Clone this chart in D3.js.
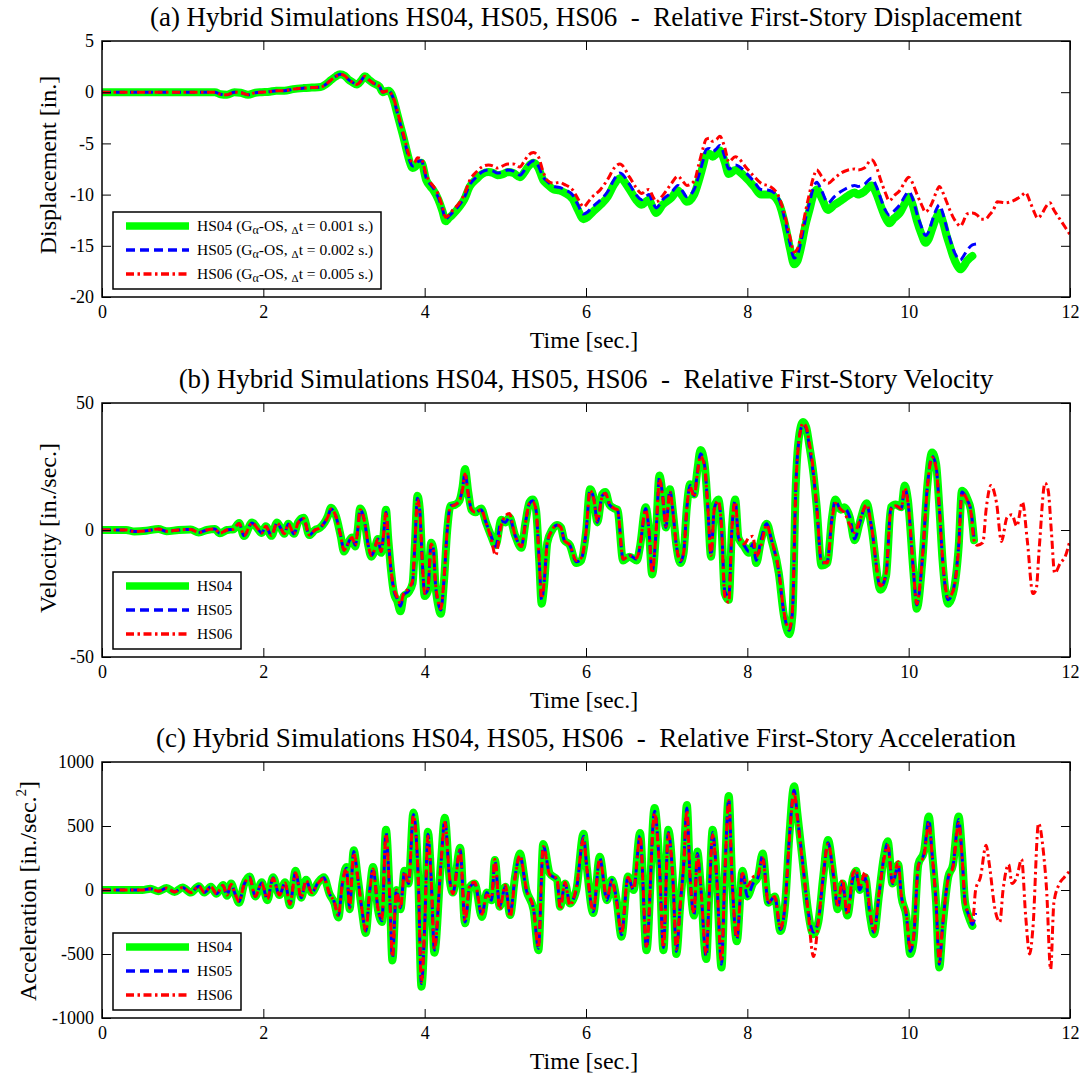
<!DOCTYPE html>
<html>
<head>
<meta charset="utf-8">
<script src="https://cdn.jsdelivr.net/npm/d3@7"></script>
<style>
  body { margin: 0; background: #fff; }
  svg text { font-family: "Liberation Serif", "Times New Roman", serif; fill: #000; }
</style>
</head>
<body>
<div id="chart"></div>
<script>
// ---- data ----
const xTicks = [0, 2, 4, 6, 8, 10, 12];
const seriesNames = ['HS04', 'HS05', 'HS06'];
const legendDt = ['0.001', '0.002', '0.005'];

// (a) displacement [in.]
const dispTime = [0, 0.5, 1.0, 1.4, 1.47, 1.55, 1.64, 1.72, 1.81, 1.9,
  1.98, 2.08, 2.16, 2.26, 2.37, 2.5, 2.6, 2.71, 2.78, 2.84,
  2.9, 2.95, 3.01, 3.06, 3.1, 3.16, 3.21, 3.26, 3.31, 3.36,
  3.44, 3.48, 3.52, 3.55, 3.59, 3.62, 3.66, 3.7, 3.74, 3.78,
  3.81, 3.85, 3.88, 3.91, 3.96, 4.02, 4.07, 4.11, 4.17, 4.22,
  4.26, 4.3, 4.34, 4.43, 4.49, 4.56, 4.64, 4.71, 4.79, 4.85,
  4.9, 4.97, 5.03, 5.1, 5.18, 5.23, 5.28, 5.35, 5.41, 5.47,
  5.52, 5.6, 5.67, 5.73, 5.84, 5.9, 5.97, 6.02, 6.07, 6.18,
  6.27, 6.35, 6.42, 6.54, 6.62, 6.69, 6.74, 6.78, 6.83, 6.87,
  6.95, 7.06, 7.14, 7.2, 7.25, 7.34, 7.4, 7.45, 7.49, 7.53,
  7.57, 7.62, 7.66, 7.72, 7.77, 7.85, 8.0, 8.08, 8.17, 8.28,
  8.39, 8.47, 8.53, 8.58, 8.62, 8.67, 8.72, 8.77, 8.82, 8.86,
  8.92, 9.0, 9.08, 9.16, 9.25, 9.33, 9.37, 9.45, 9.54, 9.6,
  9.65, 9.71, 9.76, 9.82, 9.89, 9.95, 10.0, 10.05, 10.1, 10.16,
  10.21, 10.25, 10.29, 10.34, 10.38, 10.43, 10.47, 10.51, 10.55, 10.6,
  10.64, 10.68, 10.72, 10.79, 10.85, 10.9, 10.95, 11.0, 11.05, 11.1,
  11.2, 11.3, 11.4, 11.45, 11.5, 11.55, 11.6, 11.65, 11.7, 11.75,
  11.8, 11.9, 12.0];
const dispHS04 = [0, 0, 0, 0, -0.2, -0.25, 0, -0.05, -0.25, -0.05,
  0, 0.05, 0.15, 0.15, 0.3, 0.4, 0.45, 0.5, 0.8, 1.2,
  1.55, 1.75, 1.6, 1.2, 1.0, 0.75, 1.1, 1.55, 1.2, 0.9,
  0.55, 0.0, 0.1, 0.15, -0.2, -0.9, -2.1, -3.3, -4.5, -5.8,
  -6.7, -7.4, -7.3, -7.0, -6.9, -8.6, -9.2, -9.6, -10.5, -11.6,
  -12.6, -12.3, -12.0, -11.2, -10.5, -9.2, -8.5, -8.0, -7.8, -7.9,
  -8.1, -8.0, -7.8, -7.9, -8.3, -7.9, -7.3, -6.9, -7.4, -8.6,
  -9.0, -9.5, -9.6, -9.8, -10.5, -11.5, -12.4, -12.2, -11.8, -11.0,
  -10.2, -9.0, -8.4, -9.5, -10.5, -11.0, -10.7, -10.5, -11.3, -11.8,
  -11.0, -10.3, -9.6, -10.2, -10.7, -10.0, -8.6, -7.2, -6.1, -6.0,
  -6.3, -6.0, -5.7, -6.8, -8.0, -7.6, -8.5, -9.2, -10.0, -10.0,
  -10.8, -13.0, -15.3, -16.8, -16.5, -15.0, -13.0, -11.5, -10.0, -9.5,
  -10.3, -11.5, -11.0, -10.6, -10.1, -9.8, -10.0, -9.7, -9.1, -9.9,
  -11.0, -12.2, -12.8, -12.3, -11.8, -10.9, -10.2, -11.0, -12.5, -13.9,
  -14.7, -14.3, -13.4, -12.3, -11.8, -12.8, -14.0, -15.0, -16.0, -16.9,
  -17.3, -17.0, -16.5, -16.0];
const dispHS05 = [0, 0, 0, 0, -0.2, -0.25, 0, -0.05, -0.25, -0.05,
  0, 0.05, 0.15, 0.15, 0.3, 0.4, 0.45, 0.5, 0.8, 1.2,
  1.55, 1.75, 1.6, 1.2, 1.0, 0.75, 1.1, 1.55, 1.2, 0.9,
  0.55, 0.0, 0.1, 0.15, -0.2, -0.8, -2.0, -3.2, -4.4, -5.7,
  -6.6, -7.2, -7.1, -6.8, -6.7, -8.4, -9.0, -9.4, -10.3, -11.4,
  -12.4, -12.1, -11.8, -11.0, -10.3, -9.0, -8.3, -7.8, -7.6, -7.7,
  -7.9, -7.8, -7.6, -7.7, -8.1, -7.7, -7.1, -6.7, -7.2, -8.3,
  -8.7, -9.2, -9.3, -9.5, -10.1, -11.0, -11.9, -11.7, -11.3, -10.5,
  -9.7, -8.5, -7.9, -9.0, -10.0, -10.5, -10.2, -10.0, -10.8, -11.3,
  -10.5, -9.8, -9.1, -9.7, -10.2, -9.5, -8.1, -6.7, -5.6, -5.5,
  -5.8, -5.5, -5.2, -6.3, -7.5, -7.1, -8.0, -8.7, -9.5, -9.6,
  -10.4, -12.6, -14.8, -16.2, -15.9, -14.4, -12.4, -10.8, -9.3, -8.8,
  -9.6, -10.8, -10.2, -9.7, -9.3, -9.1, -9.2, -9.0, -8.4, -9.2,
  -10.3, -11.5, -12.0, -11.6, -11.0, -10.2, -9.7, -10.4, -11.8, -13.2,
  -14.0, -13.6, -12.6, -11.5, -11.0, -12.0, -13.2, -14.3, -15.3, -16.1,
  -16.4, -16.0, -15.5, -14.9, -14.8];
const dispHS06 = [0, 0, 0, 0, -0.2, -0.25, 0, -0.05, -0.25, -0.05,
  0, 0.05, 0.15, 0.15, 0.3, 0.4, 0.45, 0.5, 0.8, 1.2,
  1.55, 1.75, 1.6, 1.2, 1.0, 0.75, 1.1, 1.55, 1.2, 0.9,
  0.55, 0.0, 0.1, 0.15, -0.2, -0.7, -1.8, -3.0, -4.2, -5.4,
  -6.3, -6.9, -6.8, -6.4, -6.5, -8.1, -8.8, -9.2, -10.0, -11.2,
  -12.2, -12.0, -11.6, -10.8, -10.0, -8.6, -7.8, -7.3, -7.1, -7.2,
  -7.4, -7.2, -7.0, -7.0, -7.3, -6.8, -6.2, -5.9, -6.3, -7.8,
  -8.6, -8.9, -8.8, -9.0, -9.6, -10.4, -11.2, -10.8, -10.3, -9.5,
  -8.5, -7.4, -7.0, -8.3, -9.3, -9.9, -9.6, -9.5, -10.2, -10.7,
  -10.1, -8.9, -8.2, -8.7, -9.1, -8.7, -7.0, -5.5, -4.6, -4.5,
  -4.8, -4.6, -4.3, -5.4, -6.8, -6.3, -7.5, -8.2, -8.9, -9.2,
  -10.2, -12.2, -14.2, -15.6, -15.3, -13.8, -11.7, -9.9, -8.3, -7.6,
  -8.2, -8.9, -8.4, -7.9, -7.6, -7.5, -7.6, -7.4, -6.6, -7.3,
  -8.5, -9.8, -10.6, -10.1, -9.6, -8.8, -8.3, -8.9, -9.9, -11.0,
  -11.7, -11.4, -10.8, -9.8, -9.2, -9.9, -10.7, -11.5, -12.2, -12.8,
  -13.1, -12.6, -11.9, -11.8, -12.0, -12.4, -12.4, -12.0, -11.5, -10.7,
  -10.8, -10.6, -10.1, -9.8, -10.6, -11.6, -12.3, -11.9, -11.2, -10.8,
  -11.5, -12.7, -13.9];

// (b) velocity [in./sec.]
const velTime = [0, 0.3, 0.4, 0.55, 0.7, 0.8, 0.95, 1.1, 1.2, 1.3,
  1.4, 1.46, 1.55, 1.63, 1.7, 1.76, 1.86, 1.93, 1.98, 2.03,
  2.1, 2.17, 2.22, 2.26, 2.31, 2.38, 2.43, 2.5, 2.57, 2.64,
  2.7, 2.76, 2.8, 2.84, 2.9, 2.96, 3.0, 3.04, 3.07, 3.1,
  3.14, 3.17, 3.2, 3.23, 3.26, 3.3, 3.34, 3.37, 3.42, 3.46,
  3.49, 3.52, 3.55, 3.58, 3.62, 3.66, 3.7, 3.74, 3.8, 3.85,
  3.88, 3.91, 3.94, 3.97, 4.0, 4.04, 4.08, 4.11, 4.13, 4.17,
  4.2, 4.24, 4.28, 4.32, 4.38, 4.43, 4.47, 4.5, 4.54, 4.58,
  4.63, 4.7, 4.76, 4.82, 4.88, 4.95, 5.0, 5.05, 5.12, 5.2,
  5.25, 5.3, 5.34, 5.38, 5.42, 5.45, 5.48, 5.52, 5.58, 5.64,
  5.69, 5.73, 5.8, 5.88, 5.94, 6.0, 6.05, 6.1, 6.14, 6.2,
  6.24, 6.29, 6.35, 6.39, 6.46, 6.54, 6.63, 6.67, 6.74, 6.78,
  6.82, 6.87, 6.91, 6.95, 6.99, 7.04, 7.08, 7.12, 7.17, 7.21,
  7.25, 7.29, 7.34, 7.38, 7.42, 7.47, 7.51, 7.55, 7.59, 7.64,
  7.68, 7.72, 7.77, 7.81, 7.85, 7.89, 7.96, 8.02, 8.07, 8.11,
  8.17, 8.24, 8.3, 8.39, 8.45, 8.52, 8.56, 8.6, 8.64, 8.69,
  8.73, 8.77, 8.82, 8.86, 8.92, 8.99, 9.05, 9.09, 9.16, 9.2,
  9.27, 9.33, 9.39, 9.48, 9.54, 9.65, 9.72, 9.78, 9.84, 9.91,
  9.95, 9.99, 10.06, 10.1, 10.17, 10.23, 10.29, 10.34, 10.38, 10.42,
  10.49, 10.55, 10.62, 10.66, 10.73, 10.77, 10.81, 10.85, 10.92, 10.96,
  11.02, 11.09, 11.15, 11.22, 11.28, 11.34, 11.41, 11.47, 11.54, 11.58,
  11.62, 11.69, 11.73, 11.77, 11.81, 11.88, 11.94, 12.0];
const velHS04 = [0, 0, -0.6, -0.3, 0.4, -0.5, 0, 0.2, -1.0, 0,
  0.4, -1.3, 0, 0.3, 2.8, -2.4, 3.0, 0.5, -1.2, 1.5,
  -2.3, 3.0, 0.5, -1.5, 2.5, -1.5, 3.0, 4.8, -2.0, 0,
  0.8, 3.0, 5.5, 8.8, 5.5, -2.5, -8.5, -6.0, -4.0, -3.0,
  -6.5, 0, 8.5, 7.0, 2.5, -6.0, -10.5, -9.0, -3.5, -9.0,
  -2.0, 8.0, -4.0, -15.0, -25.0, -28.0, -32.0, -26.0, -24.5, -21.0,
  -5.0, 13.5, 8.0, -12.0, -26.0, -24.0, -5.0, -8.0, -20.0, -30.0,
  -33.0, -20.0, 0, 9.5, 10.0, 11.5, 17.0, 24.0, 15.0, 8.0,
  7.0, 8.5, 3.0, -2.0, -6.0, 4.0, 3.0, 5.0, -2.0, -7.0,
  3.0, 11.0, 12.0, 8.0, -12.0, -29.0, -22.0, -5.0, 0, 2.0,
  1.0, -4.0, -6.0, -13.0, -12.0, -1.0, 16.0, 12.0, 3.0, 14.0,
  15.0, 10.0, 8.5, 8.0, -12.0, -10.5, -12.0, -6.5, 9.0, 0,
  -17.5, 0, 21.5, 14.0, 1.0, 16.0, 6.5, -6.0, -13.0, -9.0,
  9.0, 18.0, 14.0, 23.5, 31.5, 26.0, 9.0, -10.5, 9.0, 12.0,
  1.0, -25.0, -27.5, 1.0, 12.0, -3.0, -6.5, -9.0, -6.0, -13.0,
  -4.0, 2.5, -4.0, -17.0, -33.0, -41.0, -33.0, 17.0, 36.5, 42.5,
  40.5, 33.0, 22.0, 9.0, -14.0, -13.0, 5.0, 12.0, 8.0, 9.0,
  5.0, -4.0, 2.5, 10.5, 1.0, -23.5, -18.0, 9.0, 10.0, 9.0,
  17.5, 12.0, -17.0, -31.0, -12.0, 17.0, 30.5, 26.0, 9.0, -12.0,
  -29.0, -25.0, -6.5, 15.5, 12.0, 8.0, -4.0];
const velHS05 = [0, 0, -0.6, -0.3, 0.4, -0.5, 0, 0.2, -1.0, 0,
  0.4, -1.3, 0, 0.3, 2.6, -2.2, 2.8, 0.5, -1.2, 1.5,
  -2.2, 2.8, 0.5, -1.5, 2.4, -1.5, 2.8, 4.5, -2.0, 0,
  0.8, 3.0, 5.2, 8.3, 5.3, -2.5, -8.0, -6.0, -4.0, -3.0,
  -6.0, 0, 8.0, 6.5, 2.5, -6.0, -10.0, -8.5, -3.5, -8.5,
  -2.0, 7.0, -4.0, -15.0, -24.0, -27.0, -30.0, -25.5, -24.0, -20.5,
  -5.0, 12.5, 7.5, -12.0, -25.0, -23.5, -5.5, -8.0, -19.5, -29.0,
  -31.5, -19.5, 0, 9.5, 10.0, 11.5, 16.5, 22.5, 14.5, 8.0,
  7.0, 8.0, 3.0, -2.0, -6.5, 3.5, 3.0, 5.0, -2.0, -6.5,
  3.0, 10.5, 11.5, 8.0, -12.0, -27.5, -21.0, -5.0, 0, 2.0,
  1.0, -4.0, -6.0, -12.5, -11.5, -1.0, 15.5, 12.0, 3.0, 13.5,
  14.5, 10.0, 8.5, 8.0, -11.5, -10.0, -11.5, -6.5, 8.5, 0,
  -16.5, 0, 20.5, 13.5, 1.0, 15.5, 6.5, -6.0, -12.5, -9.0,
  8.5, 17.5, 13.5, 22.5, 30.0, 25.5, 9.0, -10.0, 8.5, 11.5,
  1.0, -24.0, -26.5, 1.0, 11.5, -3.0, -6.0, -8.5, -5.5, -12.0,
  -4.0, 2.5, -4.0, -16.5, -32.0, -39.5, -32.0, 16.0, 35.5, 41.5,
  40.0, 32.5, 21.5, 9.0, -13.0, -12.5, 5.0, 11.5, 8.0, 8.5,
  5.0, -3.5, 2.5, 10.0, 1.0, -22.5, -17.5, 8.5, 9.5, 8.5,
  16.5, 11.5, -16.5, -29.5, -11.5, 16.5, 29.0, 25.0, 9.0, -11.5,
  -27.5, -24.0, -6.0, 15.0, 11.5, 8.0, -3.5];
const velHS06 = [0, 0, -0.6, -0.3, 0.4, -0.5, 0, 0.2, -1.0, 0,
  0.4, -1.3, 0, 0.3, 2.6, -2.2, 2.8, 0.5, -1.2, 1.5,
  -2.2, 2.8, 0.5, -1.5, 2.4, -1.5, 2.8, 4.5, -2.0, 0,
  0.8, 3.0, 5.2, 8.3, 5.3, -2.5, -8.0, -6.0, -4.0, -3.0,
  -6.0, 0, 8.0, 6.5, 2.5, -6.0, -10.0, -8.5, -3.5, -8.5,
  -2.0, 7.0, -4.0, -15.0, -23.0, -26.5, -29.0, -25.0, -23.0, -20.0,
  -5.0, 12.0, 7.0, -12.0, -25.0, -23.0, -5.5, -8.0, -19.0, -28.5,
  -31.0, -19.0, 0, 9.0, 10.0, 11.5, 16.0, 22.0, 14.0, 8.0,
  7.0, 8.0, 3.0, -3.0, -10.0, 2.0, 5.5, 6.5, -2.0, -6.5,
  3.0, 10.5, 11.0, 8.0, -12.0, -27.0, -21.0, -5.0, 0, 2.0,
  1.0, -4.0, -6.0, -12.0, -11.0, -1.0, 15.5, 11.5, 3.5, 13.0,
  14.5, 10.5, 8.5, 8.0, -11.5, -10.0, -11.0, -6.0, 8.0, 0,
  -17.0, 0, 20.0, 13.0, 1.5, 15.0, 6.5, -6.0, -12.0, -9.0,
  8.5, 17.0, 13.0, 22.0, 29.0, 25.0, 9.0, -10.0, 8.0, 11.5,
  1.0, -26.0, -28.5, 1.0, 11.0, -2.0, -5.5, -3.0, -2.5, -10.5,
  -6.0, 2.0, -4.0, -16.0, -31.5, -39.0, -31.0, 16.0, 35.0, 42.0,
  40.5, 34.0, 23.0, 9.0, -12.5, -13.0, 4.0, 10.5, 8.0, 7.0,
  2.0, -1.0, 3.5, 10.0, 1.0, -22.0, -17.0, 8.0, 9.5, 8.5,
  16.5, 11.0, -16.0, -29.0, -11.0, 16.0, 28.5, 24.5, 8.5, -11.0,
  -26.5, -24.0, -7.0, 14.5, 11.5, 7.5, -4.0, -6.0, -5.0, 8.0,
  17.5, 10.5, -4.5, 5.0, 6.0, 1.5, 11.0, -4.0, -25.0, -23.5,
  -6.5, 18.5, 15.5, -1.0, -17.0, -13.0, -10.5, -4.0];

// (c) acceleration [in./sec.^2]
const accTime = [0, 0.5, 0.6, 0.7, 0.8, 0.9, 1.0, 1.1, 1.2, 1.27,
  1.35, 1.42, 1.5, 1.55, 1.6, 1.65, 1.7, 1.76, 1.83, 1.9,
  1.98, 2.05, 2.12, 2.2, 2.27, 2.33, 2.4, 2.47, 2.53, 2.6,
  2.68, 2.75, 2.82, 2.88, 2.93, 2.98, 3.03, 3.07, 3.12, 3.17,
  3.22, 3.27, 3.32, 3.36, 3.42, 3.47, 3.52, 3.57, 3.6, 3.65,
  3.7, 3.75, 3.8, 3.86, 3.92, 3.96, 4.0, 4.04, 4.08, 4.12,
  4.2, 4.25, 4.31, 4.35, 4.44, 4.5, 4.56, 4.62, 4.71, 4.77,
  4.83, 4.87, 4.93, 5.0, 5.06, 5.12, 5.18, 5.26, 5.35, 5.41,
  5.47, 5.55, 5.64, 5.68, 5.74, 5.8, 5.88, 5.97, 6.01, 6.09,
  6.17, 6.26, 6.32, 6.38, 6.44, 6.52, 6.59, 6.67, 6.75, 6.85,
  6.91, 6.96, 7.02, 7.08, 7.12, 7.17, 7.21, 7.25, 7.29, 7.34,
  7.38, 7.42, 7.49, 7.53, 7.57, 7.62, 7.68, 7.72, 7.77, 7.81,
  7.87, 7.94, 8.0, 8.07, 8.13, 8.19, 8.26, 8.34, 8.41, 8.47,
  8.52, 8.58, 8.62, 8.69, 8.75, 8.82, 8.88, 8.94, 9.0, 9.07,
  9.12, 9.18, 9.24, 9.31, 9.35, 9.39, 9.46, 9.52, 9.57, 9.63,
  9.69, 9.74, 9.8, 9.87, 9.91, 9.97, 10.02, 10.06, 10.12, 10.19,
  10.25, 10.29, 10.34, 10.38, 10.42, 10.49, 10.55, 10.62, 10.66, 10.7,
  10.74, 10.79, 10.83, 10.89, 10.96, 11.0, 11.07, 11.13, 11.17, 11.24,
  11.28, 11.34, 11.4, 11.45, 11.5, 11.54, 11.61, 11.67, 11.71, 11.76,
  11.8, 11.87, 11.93, 12.0];
const accHS04 = [0, 0, 10, -10, 15, -15, 20, -20, 30, -20,
  25, -30, 40, -45, 50, -30, -100, 40, 105, -50,
  60, -80, 100, -40, 60, -120, 150, -60, 80, -20,
  60, 100, -30, -100, -215, 50, 180, -150, 310, 100,
  -150, -335, 0, 180, -150, -250, 470, -100, -550, 0,
  -150, 150, 50, 605, 100, -755, -300, 455, 100, -490,
  200, 565, 80, -20, 330, -260, 25, 50, -210, -20,
  -80, 235, -130, 25, -195, 105, 285, 0, -155, -470,
  360, 130, 80, -130, 50, -105, 0, 440, 180, -180,
  260, -80, 80, -80, -365, 105, 0, 445, -470, 640,
  200, -470, 470, 50, -500, -100, 200, 665, 100, -200,
  300, 50, -540, 0, 470, 100, -605, 100, 735, 100,
  -400, 150, -50, 50, 100, 285, -100, -50, -320, -100,
  415, 810, 600, 200, -150, -345, -250, 100, 390, 100,
  -150, 50, -200, 100, 150, 0, 100, -200, -345, -50,
  250, 380, 50, 200, -50, -200, -500, -400, 200, 300,
  575, 300, -100, -605, -300, 100, 200, 575, 300, -100,
  -200, -280];
const accHS05 = [0, 0, 10, -10, 15, -15, 20, -20, 30, -20,
  25, -30, 35, -40, 45, -30, -90, 40, 100, -50,
  55, -75, 95, -40, 55, -110, 140, -60, 75, -20,
  60, 95, -30, -95, -200, 50, 170, -140, 300, 100,
  -140, -320, 0, 170, -140, -240, 450, -100, -530, 0,
  -140, 140, 50, 590, 100, -730, -290, 435, 100, -470,
  190, 545, 80, -20, 315, -250, 25, 50, -200, -20,
  -80, 225, -125, 25, -185, 100, 270, 0, -150, -455,
  345, 125, 80, -125, 50, -100, 0, 420, 175, -170,
  250, -80, 80, -80, -350, 100, 0, 425, -455, 615,
  190, -450, 450, 50, -480, -100, 190, 640, 100, -190,
  285, 50, -520, 0, 450, 100, -580, 100, 710, 100,
  -385, 140, -50, 50, 95, 270, -100, -50, -310, -100,
  400, 780, 580, 190, -150, -330, -240, 100, 370, 100,
  -140, 50, -190, 95, 140, 0, 95, -190, -330, -50,
  240, 365, 50, 190, -50, -190, -480, -385, 190, 285,
  550, 285, -100, -580, -290, 95, 190, 550, 285, -100,
  -190, -270, -180];
const accHS06 = [0, 0, 10, -10, 15, -15, 20, -20, 30, -20,
  25, -30, 35, -40, 45, -30, -90, 40, 95, -50,
  55, -70, 90, -40, 55, -110, 135, -60, 75, -20,
  55, 90, -30, -95, -200, 50, 165, -140, 290, 100,
  -140, -320, 0, 165, -140, -230, 440, -100, -520, 0,
  -140, 140, 50, 580, 100, -720, -280, 420, 100, -460,
  180, 530, 90, -30, 310, -240, 40, 60, -190, -40,
  -60, 240, -150, 40, -210, 90, 270, 10, -150, -450,
  340, 120, 90, -150, 60, -120, 20, 400, 170, -160,
  240, -60, 70, -100, -340, 100, 10, 420, -440, 600,
  180, -450, 440, 60, -460, -100, 180, 620, 100, -180,
  270, 50, -500, 0, 430, 100, -560, 100, 700, 100,
  -370, 130, 30, 100, 120, 250, -100, -50, -300, -100,
  390, 760, 560, 180, -150, -520, -250, 100, 360, 120,
  -120, 80, -190, 130, 160, 20, 140, -160, -330, -40,
  230, 350, 60, 220, -50, -180, -460, -370, 190, 270,
  520, 280, -100, -560, -280, 90, 180, 520, 280, -100,
  -180, -260, 0, 100, 350, 200, -150, -250, 0, 200,
  50, 100, 240, -200, -500, -300, 520, 300, 0, -620,
  -100, 50, 100, 150];

// ---- layout ----
const width = 1081;
const height = 1078;
const plotLeft = 102;
const plotRight = 1070;
const tickLen = 9;
const serif = '"Liberation Serif", "Times New Roman", serif';

const seriesStyle = [
  { color: '#00ff00', width: 8, dash: null },
  { color: '#0000ff', width: 3, dash: '9,5' },
  { color: '#ff0000', width: 3, dash: '8,3.5,2.5,3.5' },
];

const panels = [
  {
    top: 41, height: 256,
    title: '(a) Hybrid Simulations HS04, HS05, HS06  -  Relative First-Story Displacement',
    ylabel: 'Displacement [in.]', labelX: 56, labelY: 165,
    yDomain: [-20, 5], yTicks: [-20, -15, -10, -5, 0, 5],
    time: dispTime, series: [dispHS04, dispHS05, dispHS06],
    legendWidth: 268, longLegend: true,
  },
  {
    top: 403, height: 254,
    title: '(b) Hybrid Simulations HS04, HS05, HS06  -  Relative First-Story Velocity',
    ylabel: 'Velocity [in./sec.]', labelX: 56, labelY: 528,
    yDomain: [-50, 50], yTicks: [-50, 0, 50],
    time: velTime, series: [velHS04, velHS05, velHS06],
    legendWidth: 128, longLegend: false,
  },
  {
    top: 762, height: 256,
    title: '(c) Hybrid Simulations HS04, HS05, HS06  -  Relative First-Story Acceleration',
    ylabel: 'Acceleration [in./sec.', labelX: 36, labelY: 891, sup: '2',
    yDomain: [-1000, 1000], yTicks: [-1000, -500, 0, 500, 1000],
    time: accTime, series: [accHS04, accHS05, accHS06],
    legendWidth: 128, longLegend: false,
  },
];

const svg = d3.select('#chart').append('svg')
  .attr('width', width)
  .attr('height', height);
svg.append('rect').attr('width', width).attr('height', height).attr('fill', '#fff');
const defs = svg.append('defs');

const x = d3.scaleLinear().domain([0, 12]).range([plotLeft, plotRight]);
const fmt = d => String(d);

panels.forEach((p, pi) => {
  const bottom = p.top + p.height;
  const y = d3.scaleLinear().domain(p.yDomain).range([bottom, p.top]);
  const g = svg.append('g').attr('class', 'panel');

  defs.append('clipPath').attr('id', `clip${pi}`)
    .append('rect')
    .attr('x', plotLeft).attr('y', p.top)
    .attr('width', plotRight - plotLeft).attr('height', p.height);

  // time histories
  const line = d3.line()
    .x(d => x(d[0]))
    .y(d => y(d[1]))
    .curve(d3.curveMonotoneX);
  const lines = g.append('g').attr('clip-path', `url(#clip${pi})`);
  p.series.forEach((vals, si) => {
    const st = seriesStyle[si];
    lines.append('path')
      .datum(vals.map((v, i) => [p.time[i], v]))
      .attr('d', line)
      .attr('fill', 'none')
      .attr('stroke', st.color)
      .attr('stroke-width', st.width)
      .attr('stroke-linejoin', 'round')
      .attr('stroke-linecap', si === 0 ? 'round' : 'butt')
      .attr('stroke-dasharray', st.dash);
  });

  // inward ticks on all four sides
  const styleAxis = sel => {
    sel.attr('font-family', serif).attr('font-size', 18);
    sel.select('.domain').remove();
    sel.selectAll('.tick line').attr('stroke', '#000').attr('stroke-width', 1);
    sel.selectAll('.tick text')
      .attr('font-family', serif)
      .attr('font-size', 18)
      .style('font-family', serif)
      .style('font-size', '18px')
      .attr('fill', '#000');
  };
  g.append('g').attr('transform', `translate(0,${bottom})`)
    .call(d3.axisBottom(x).tickValues(xTicks).tickSize(-tickLen).tickPadding(8).tickFormat(fmt))
    .call(styleAxis);
  g.append('g').attr('transform', `translate(0,${p.top})`)
    .call(d3.axisTop(x).tickValues(xTicks).tickSize(-tickLen).tickFormat(''))
    .call(styleAxis);
  g.append('g').attr('transform', `translate(${plotLeft},0)`)
    .call(d3.axisLeft(y).tickValues(p.yTicks).tickSize(-tickLen).tickPadding(8).tickFormat(fmt))
    .call(styleAxis);
  g.append('g').attr('transform', `translate(${plotRight},0)`)
    .call(d3.axisRight(y).tickValues(p.yTicks).tickSize(-tickLen).tickFormat(''))
    .call(styleAxis);

  g.append('rect')
    .attr('x', plotLeft).attr('y', p.top)
    .attr('width', plotRight - plotLeft).attr('height', p.height)
    .attr('fill', 'none').attr('stroke', '#000').attr('stroke-width', 1.5);

  // titles and labels
  g.append('text')
    .attr('x', (plotLeft + plotRight) / 2).attr('y', p.top - 15)
    .attr('text-anchor', 'middle')
    .style('font-size', '27px')
    .style('white-space', 'pre')
    .text(p.title);

  g.append('text')
    .attr('x', 584).attr('y', bottom + 51)
    .attr('text-anchor', 'middle')
    .style('font-size', '24px')
    .text('Time [sec.]');

  const yl = g.append('text')
    .attr('transform', `translate(${p.labelX},${p.labelY}) rotate(-90)`)
    .attr('text-anchor', 'middle')
    .style('font-size', '24px')
    .text(p.ylabel);
  if (p.sup) {
    yl.append('tspan').attr('dy', -10).style('font-size', '15px').text(p.sup);
    yl.append('tspan').attr('dy', 10).text(']');
  }

  // legend
  const legTop = bottom - 85;
  const lg = g.append('g');
  lg.append('rect')
    .attr('x', 113).attr('y', legTop)
    .attr('width', p.legendWidth).attr('height', 77)
    .attr('fill', '#fff').attr('stroke', '#000').attr('stroke-width', 1.5);
  seriesNames.forEach((name, i) => {
    const st = seriesStyle[i];
    const ry = legTop + 14 + i * 24;
    lg.append('line')
      .attr('x1', 126).attr('x2', 189)
      .attr('y1', ry).attr('y2', ry)
      .attr('stroke', st.color)
      .attr('stroke-width', i === 0 ? 7.5 : 3.5)
      .attr('stroke-dasharray', st.dash);
    const t = lg.append('text')
      .attr('x', 197).attr('y', ry + 5)
      .style('font-size', '15.5px');
    if (p.longLegend) {
      t.append('tspan').text(`${name} (G`);
      t.append('tspan').attr('dy', 3).style('font-size', '12px').text('α');
      t.append('tspan').attr('dy', -3).text('-OS, ');
      t.append('tspan').attr('dy', 3).style('font-size', '11px').text('Δ');
      t.append('tspan').attr('dy', -3).text(`t = ${legendDt[i]} s.)`);
    } else {
      t.text(name);
    }
  });
});
</script>
</body>
</html>
